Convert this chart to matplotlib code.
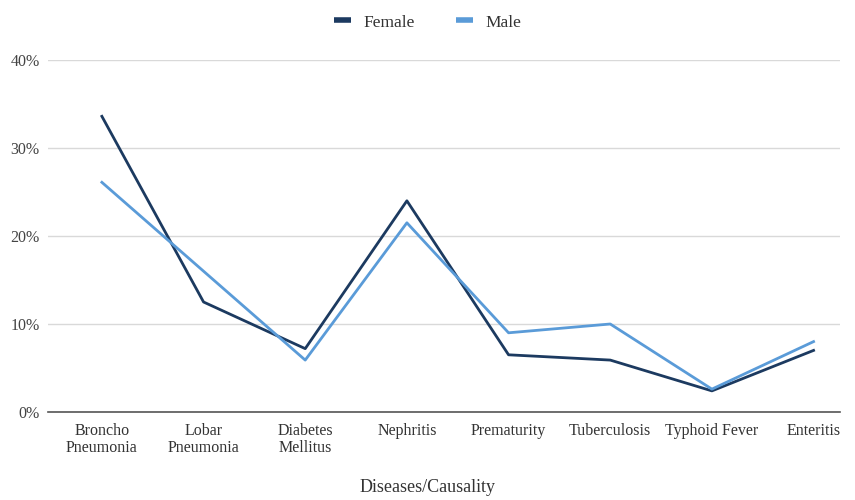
import matplotlib.pyplot as plt
from matplotlib.ticker import FuncFormatter

plt.rcParams['font.family'] = ['Liberation Serif', 'DejaVu Serif']

# Data (percent)
diseases = ['Broncho\nPneumonia', 'Lobar\nPneumonia', 'Diabetes\nMellitus', 'Nephritis',
            'Prematurity', 'Tuberculosis', 'Typhoid Fever', 'Enteritis']
female = [33.6, 12.5, 7.2, 24.0, 6.5, 5.9, 2.4, 7.0]
male = [26.1, 16.0, 5.9, 21.5, 9.0, 10.0, 2.6, 8.0]

fig = plt.figure(figsize=(8.55, 5.0), dpi=100)
ax = fig.add_axes([48 / 855, 88 / 500, 792 / 855, 352 / 500])

x = range(len(diseases))
ax.plot(x, female, color='#1c3a60', lw=2.0, label='Female')
ax.plot(x, male, color='#5a9bd8', lw=2.0, label='Male')

ax.set_ylim(0, 40)
ax.set_yticks([0, 10, 20, 30, 40])
ax.yaxis.set_major_formatter(FuncFormatter(lambda v, p: f'{v:.0f}%'))
ax.set_xlim(-0.53, 7.26)
ax.set_xticks(list(x))
ax.set_xticklabels(diseases, linespacing=1.05)

ax.grid(axis='y', color='#d9d9d9', lw=1.0)
ax.set_axisbelow(True)
for s in ['top', 'right', 'left']:
    ax.spines[s].set_visible(False)
ax.spines['bottom'].set_color('#555555')
ax.spines['bottom'].set_linewidth(1.2)
ax.tick_params(axis='both', length=0, labelsize=11.5, colors='#444444')
ax.tick_params(axis='x', pad=8, labelcolor='#333333')
ax.tick_params(axis='y', pad=6)

# x axis title sits near the bottom edge
fig.text(0.5, 12 / 500, 'Diseases/Causality', ha='center', va='center',
         fontsize=13, color='#333333')

fig.legend(loc='center', bbox_to_anchor=(0.5, 0.955), ncol=2, frameon=False,
           prop={'size': 12.5}, handlelength=1.0, columnspacing=2.4, handletextpad=0.7)
leg = fig.legends[0]
for t in leg.get_texts():
    t.set_color('#333333')
for h in leg.legend_handles:
    h.set_linewidth(4)
    h.set_solid_capstyle('butt')

fig.savefig('out.png', dpi=100)
